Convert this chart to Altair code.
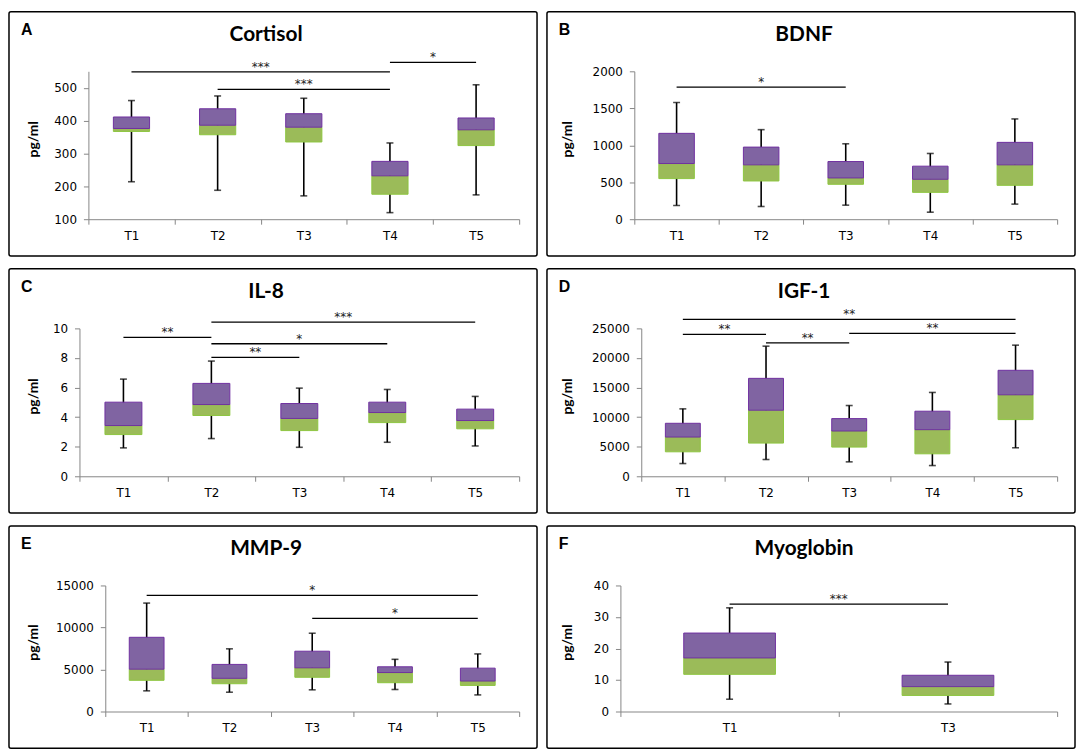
import altair as alt
import pandas as pd

CATS5 = ["T1", "T2", "T3", "T4", "T5"]
CATS_MYO = ["T1", "T3"]

# ---- A: Cortisol ----
cortisol_min = [214, 188, 171, 120, 174]
cortisol_q1 = [367, 357, 335, 176, 324]
cortisol_med = [376, 386, 380, 232, 372]
cortisol_q3 = [411, 436, 421, 276, 408]
cortisol_max = [461, 475, 468, 332, 509]
cortisol_sig_from = ["T1", "T2", "T4"]
cortisol_sig_to = ["T4", "T4", "T5"]
cortisol_sig_y = [548, 495, 577]
cortisol_sig_txt = ["***", "***", "*"]
cortisol_ticks = [100, 200, 300, 400, 500]
cortisol_domain = [100, 550]

# ---- B: BDNF ----
bdnf_min = [186, 172, 190, 95, 204]
bdnf_q1 = [549, 517, 472, 363, 458]
bdnf_med = [753, 735, 558, 540, 735]
bdnf_q3 = [1161, 975, 780, 717, 1039]
bdnf_max = [1578, 1211, 1020, 889, 1356]
bdnf_sig_from = ["T1"]
bdnf_sig_to = ["T3"]
bdnf_sig_y = [1787]
bdnf_sig_txt = ["*"]
bdnf_ticks = [0, 500, 1000, 1500, 2000]
bdnf_domain = [0, 2000]

# ---- C: IL-8 ----
il8_min = [1.92, 2.55, 1.96, 2.30, 2.05]
il8_q1 = [2.82, 4.11, 3.09, 3.63, 3.21]
il8_med = [3.43, 4.85, 3.91, 4.31, 3.77]
il8_q3 = [5.01, 6.28, 4.92, 5.01, 4.54]
il8_max = [6.57, 7.79, 5.96, 5.87, 5.40]
il8_sig_from = ["T1", "T2", "T2", "T2"]
il8_sig_to = ["T2", "T5", "T4", "T3"]
il8_sig_y = [9.39, 10.43, 8.96, 8.04]
il8_sig_txt = ["**", "***", "*", "**"]
il8_ticks = [0, 2, 4, 6, 8, 10]
il8_domain = [0, 10]

# ---- D: IGF-1 ----
igf1_min = [2154, 2834, 2438, 1814, 4819]
igf1_q1 = [4138, 5612, 4932, 3798, 9580]
igf1_med = [6633, 11168, 7653, 7880, 13776]
igf1_q3 = [8957, 16553, 9750, 10998, 17914]
igf1_max = [11395, 21995, 11961, 14172, 22166]
igf1_sig_from = ["T1", "T1", "T2", "T3"]
igf1_sig_to = ["T5", "T2", "T3", "T5"]
igf1_sig_y = [26530, 23980, 22560, 24150]
igf1_sig_txt = ["**", "**", "**", "**"]
igf1_ticks = [0, 5000, 10000, 15000, 20000, 25000]
igf1_domain = [0, 25000]

# ---- E: MMP-9 ----
mmp9_min = [2460, 2298, 2581, 2621, 1976]
mmp9_q1 = [3710, 3306, 4073, 3427, 3105]
mmp9_med = [5040, 3952, 5202, 4637, 3629]
mmp9_q3 = [8831, 5605, 7177, 5323, 5161]
mmp9_max = [12903, 7460, 9315, 6210, 6855]
mmp9_sig_from = ["T1", "T3"]
mmp9_sig_to = ["T5", "T5"]
mmp9_sig_y = [13831, 11089]
mmp9_sig_txt = ["*", "*"]
mmp9_ticks = [0, 5000, 10000, 15000]
mmp9_domain = [0, 15000]

# ---- F: Myoglobin ----
myo_min = [3.9, 2.4]
myo_q1 = [11.8, 5.1]
myo_med = [17.0, 7.9]
myo_q3 = [24.9, 11.5]
myo_max = [32.9, 15.7]
myo_sig_from = ["T1"]
myo_sig_to = ["T3"]
myo_sig_y = [34.1]
myo_sig_txt = ["***"]
myo_ticks = [0, 10, 20, 30, 40]
myo_domain = [0, 40]

PURPLE = "#8064A2"
PURPLE_EDGE = "#7030A0"
GREEN = "#9BBB59"
GREEN_EDGE = "#8DC63F"
AXIS_GRAY = "#868686"
LABEL_FONT = "DejaVu Sans"
TITLE_FONT = "Lato"

PANEL_W = 532
RIGHT = 18
TOP = 60
BOTTOM = 37


def panel(letter, title, cats, mn, q1, med, q3, mx, sfrom, sto, sy, stxt,
          ydomain, yticks, left, row_h, col):
    H = row_h - TOP - BOTTOM
    df = pd.DataFrame({"cat": cats, "mn": mn, "q1": q1, "med": med, "q3": q3, "mx": mx})
    xs = alt.Scale(domain=cats, paddingInner=0, paddingOuter=0,
                   range=[left, PANEL_W - RIGHT])
    ys = alt.Scale(domain=ydomain, nice=False, zero=False,
                   range=[row_h - BOTTOM, TOP])
    xaxis = alt.Axis(title=None, tickBand="extent", labelAngle=0, domainColor=AXIS_GRAY,
                     tickColor=AXIS_GRAY, tickSize=5, labelPadding=6, labelFont=LABEL_FONT,
                     labelFontSize=12, labelColor="#000", grid=False, offset=-BOTTOM)
    yaxis = alt.Axis(title=None, values=yticks, format="d", labelOverlap=False,
                     domainColor=AXIS_GRAY, tickColor=AXIS_GRAY,
                     tickSize=5, labelPadding=7, labelFont=LABEL_FONT, labelFontSize=12,
                     labelColor="#000", grid=False, offset=-left)
    one = pd.DataFrame({"k": [0]})

    def X(field, **kw):
        return alt.X(field, scale=xs, axis=xaxis, title=None, **kw)

    def Y(field):
        return alt.Y(field, scale=ys, axis=yaxis, title=None)

    border = alt.Chart(one).mark_rect(fill="transparent", stroke="#000", strokeWidth=1.5,
                                       cornerRadius=2).encode(
        x=alt.value(0), x2=alt.value(PANEL_W),
        y=alt.value(0), y2=alt.value(row_h))

    whisk = alt.Chart(df).mark_rule(color="#000", strokeWidth=1.6).encode(
        x=X("cat:N"), y=Y("mn:Q"), y2="mx:Q")
    lo_box = alt.Chart(df).mark_bar(width=alt.RelativeBandSize(0.42), color=GREEN,
                                    stroke=GREEN_EDGE, strokeWidth=1).encode(
        x=X("cat:N"), y=Y("q1:Q"), y2="med:Q")
    hi_box = alt.Chart(df).mark_bar(width=alt.RelativeBandSize(0.42), color=PURPLE,
                                    stroke=PURPLE_EDGE, strokeWidth=1).encode(
        x=X("cat:N"), y=Y("med:Q"), y2="q3:Q")
    cap_lo = alt.Chart(df).mark_tick(size=7, thickness=1.6, color="#000").encode(
        x=X("cat:N"), y=Y("mn:Q"))
    cap_hi = alt.Chart(df).mark_tick(size=7, thickness=1.6, color="#000").encode(
        x=X("cat:N"), y=Y("mx:Q"))

    sig = pd.DataFrame({"a": sfrom, "b": sto, "y": sy, "t": stxt})
    mids, bps = [], []
    for a, b in zip(sfrom, sto):
        p = (cats.index(a) + cats.index(b)) / 2 + 0.5
        k = int(p)
        mids.append(cats[k])
        bps.append(p - k)
    sig["mid"] = mids
    sig["bp"] = bps

    sig_rule = alt.Chart(sig).mark_rule(color="#000", strokeWidth=1.3).encode(
        x=X("a:N", bandPosition=0.5),
        x2=alt.X2("b", bandPosition=0.5),
        y=Y("y:Q"))

    layers = [border, whisk, lo_box, hi_box, cap_lo, cap_hi, sig_rule]
    for bpv in (0.0, 0.5):
        sub = sig[sig["bp"] == bpv]
        if len(sub):
            layers.append(alt.Chart(sub).mark_text(font=LABEL_FONT, fontSize=12, color="#222",
                                                   baseline="alphabetic", dy=-1).encode(
                x=X("mid:N", bandPosition=bpv), y=Y("y:Q"), text="t:N"))

    title_t = alt.Chart(one).mark_text(font=TITLE_FONT, fontSize=21, fontWeight="bold",
                                        color="#000", align="center", baseline="middle").encode(
        x=alt.value(PANEL_W / 2 - 7), y=alt.value(23), text=alt.value(title))
    letter_t = alt.Chart(one).mark_text(font="Liberation Sans", fontSize=16, fontWeight="bold",
                                         color="#000", align="left", baseline="middle").encode(
        x=alt.value(12), y=alt.value(18), text=alt.value(letter))
    ytitle = alt.Chart(one).mark_text(font=TITLE_FONT, fontSize=14, fontWeight="bold",
                                       color="#000", align="center", baseline="middle",
                                       angle=270).encode(
        x=alt.value(25 if col == 0 else 21), y=alt.value(TOP + H / 2 - 6),
        text=alt.value("pg/ml"))
    layers += [title_t, letter_t, ytitle]

    return alt.layer(*layers).properties(width=PANEL_W, height=row_h)


pA = panel("A", "Cortisol", CATS5, cortisol_min, cortisol_q1, cortisol_med, cortisol_q3,
           cortisol_max, cortisol_sig_from, cortisol_sig_to, cortisol_sig_y, cortisol_sig_txt,
           cortisol_domain, cortisol_ticks, 80, 246, 0)
pB = panel("B", "BDNF", CATS5, bdnf_min, bdnf_q1, bdnf_med, bdnf_q3, bdnf_max,
           bdnf_sig_from, bdnf_sig_to, bdnf_sig_y, bdnf_sig_txt,
           bdnf_domain, bdnf_ticks, 88, 246, 1)
pC = panel("C", "IL-8", CATS5, il8_min, il8_q1, il8_med, il8_q3, il8_max,
           il8_sig_from, il8_sig_to, il8_sig_y, il8_sig_txt,
           il8_domain, il8_ticks, 71, 246, 0)
pD = panel("D", "IGF-1", CATS5, igf1_min, igf1_q1, igf1_med, igf1_q3, igf1_max,
           igf1_sig_from, igf1_sig_to, igf1_sig_y, igf1_sig_txt,
           igf1_domain, igf1_ticks, 95, 246, 1)
pE = panel("E", "MMP-9", CATS5, mmp9_min, mmp9_q1, mmp9_med, mmp9_q3, mmp9_max,
           mmp9_sig_from, mmp9_sig_to, mmp9_sig_y, mmp9_sig_txt,
           mmp9_domain, mmp9_ticks, 97, 224, 0)
pF = panel("F", "Myoglobin", CATS_MYO, myo_min, myo_q1, myo_med, myo_q3, myo_max,
           myo_sig_from, myo_sig_to, myo_sig_y, myo_sig_txt,
           myo_domain, myo_ticks, 74, 224, 1)

chart = alt.concat(
    pA, pB, pC, pD, pE, pF,
    columns=2,
    spacing={"row": 11, "column": 8},
).properties(padding=0, background="white").configure_view(stroke=None)

chart.save("out.html", embed_options={"renderer": "svg", "actions": False})
